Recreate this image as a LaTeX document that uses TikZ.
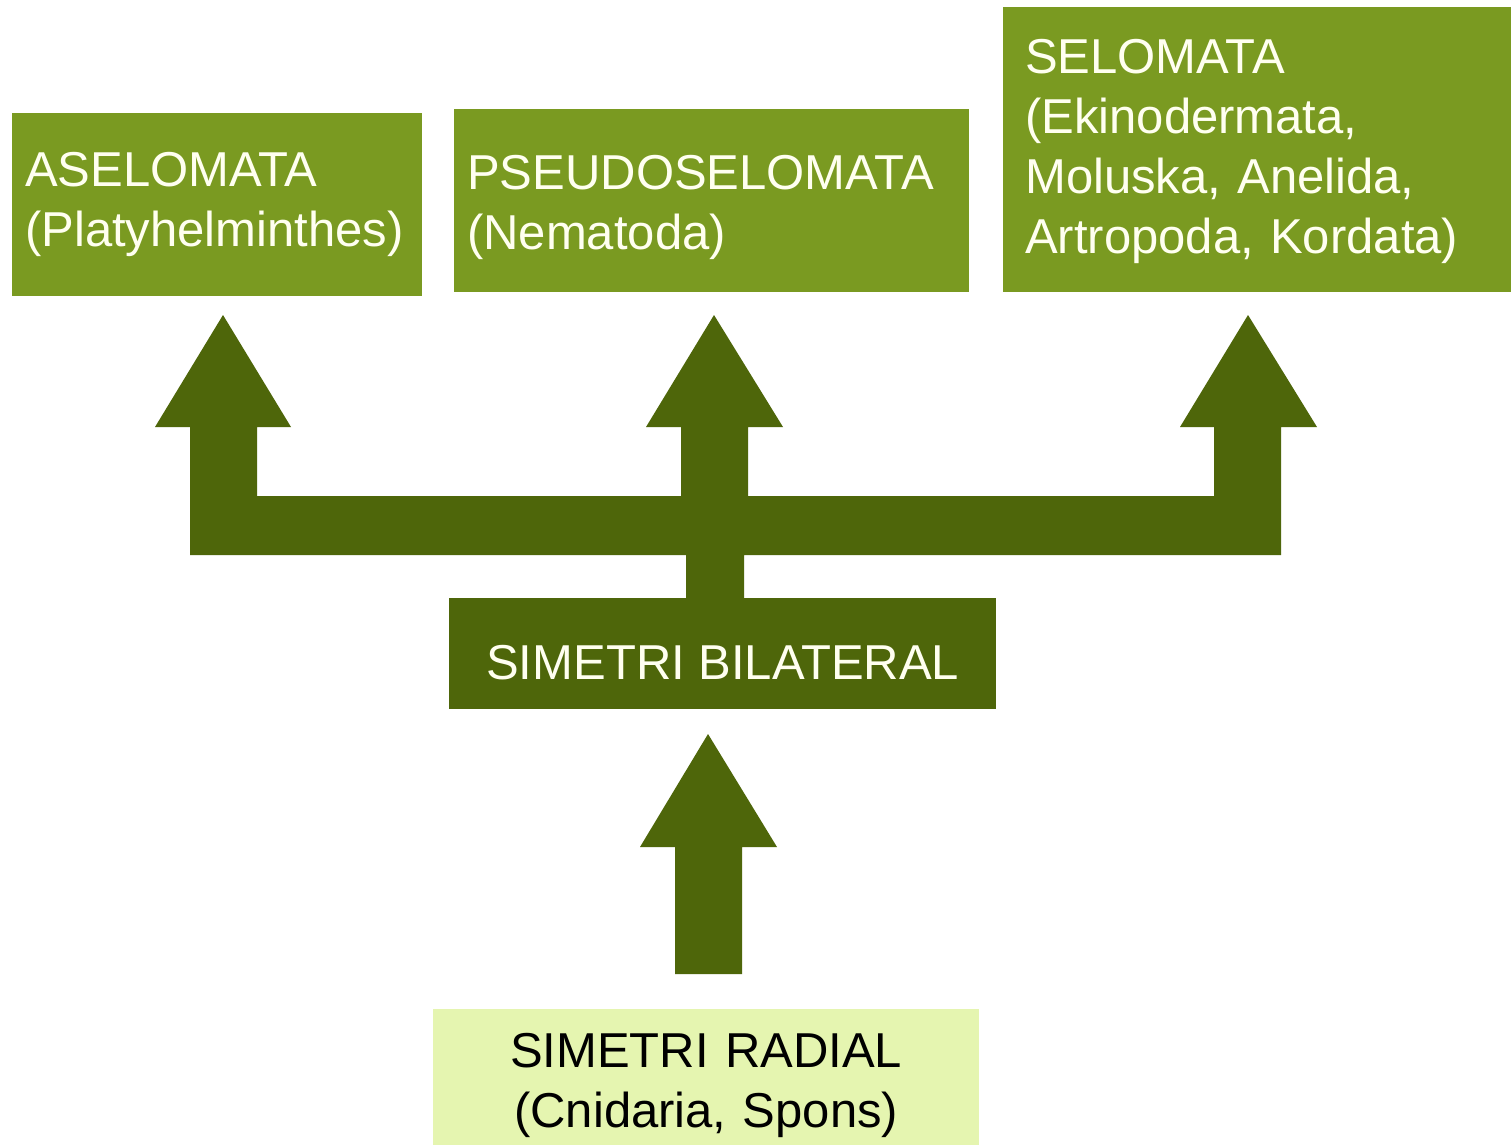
\documentclass[tikz,border=0pt]{standalone}
\usepackage{fontspec}
\setmainfont{Liberation Sans}
\usetikzlibrary{calc}
\frenchspacing
\definecolor{boxgreen}{HTML}{7A9A21}
\definecolor{darkgreen}{HTML}{4E660A}
\definecolor{lightgreen}{HTML}{E5F5B0}
\definecolor{creamwhite}{HTML}{FFFFF0}
\tikzset{
  bigtext/.style={font=\fontsize{49}{60}\selectfont\frenchspacing},
  topbox/.style={bigtext, fill=boxgreen, text=creamwhite, anchor=north west,
    inner ysep=0pt, align=left, execute at begin node={\hyphenpenalty=10000\exhyphenpenalty=10000}},
  fatarrow/.style={fill=darkgreen, draw=none},
}
\begin{document}
\begin{tikzpicture}[x=1pt,y=-1pt]
\useasboundingbox[fill=white] (0,0) rectangle (1511,1145);
% top boxes
\node[topbox, inner xsep=13pt, text width=384pt, minimum width=410pt, minimum height=183pt]
  (ase) at (12,113) {ASELOMATA\\(Platyhelminthes)};
\node[topbox, inner xsep=13pt, text width=489pt, minimum width=515pt, minimum height=183pt, text height=47pt]
  (pse) at (454,109) {PSEUDOSELOMATA\\(Nematoda)};
\node[topbox, inner xsep=22pt, text width=466pt, minimum width=510pt, minimum height=285pt, text height=37pt]
  (sel) at (1003,7) {SELOMATA\\(Ekinodermata,\\Moluska, Anelida,\\Artropoda, Kordata)};
% middle and bottom boxes
\node[bigtext, fill=darkgreen, text=creamwhite, anchor=north west, inner sep=0pt,
  minimum width=547pt, minimum height=111pt, text height=51pt, text depth=0pt]
  (bil) at (449,598) {SIMETRI BILATERAL};
\node[bigtext, fill=lightgreen, text=black, anchor=north west, inner sep=0pt, align=center,
  text width=546pt, minimum width=546pt, minimum height=136pt, text height=50pt]
  (rad) at (433,1009) {SIMETRI RADIAL\\(Cnidaria, Spons)};
% branching arrows from SIMETRI BILATERAL to the three groups
\coordinate (tipA) at (223,315);
\coordinate (tipB) at (714,315);
\coordinate (tipC) at (1248,315);
\fill[fatarrow]
  (190,555) -- (190,427) -- (155,427) -- (tipA) -- (291,427) -- (257,427) -- (257,496)
  -- (681,496) -- (681,427) -- (646,427) -- (tipB) -- (783,427) -- (748,427) -- (748,496)
  -- (1214,496) -- (1214,427) -- (1180,427) -- (tipC) -- (1317,427) -- (1281,427)
  -- (1281,555) -- (744,555) -- (744,598) -- (686,598) -- (686,555) -- cycle;
% arrow from SIMETRI RADIAL to SIMETRI BILATERAL
\coordinate (tipD) at (708,734);
\fill[fatarrow]
  (675,974) -- (675,847) -- (640,847) -- (tipD) -- (777,847) -- (742,847) -- (742,974) -- cycle;
\end{tikzpicture}
\end{document}
